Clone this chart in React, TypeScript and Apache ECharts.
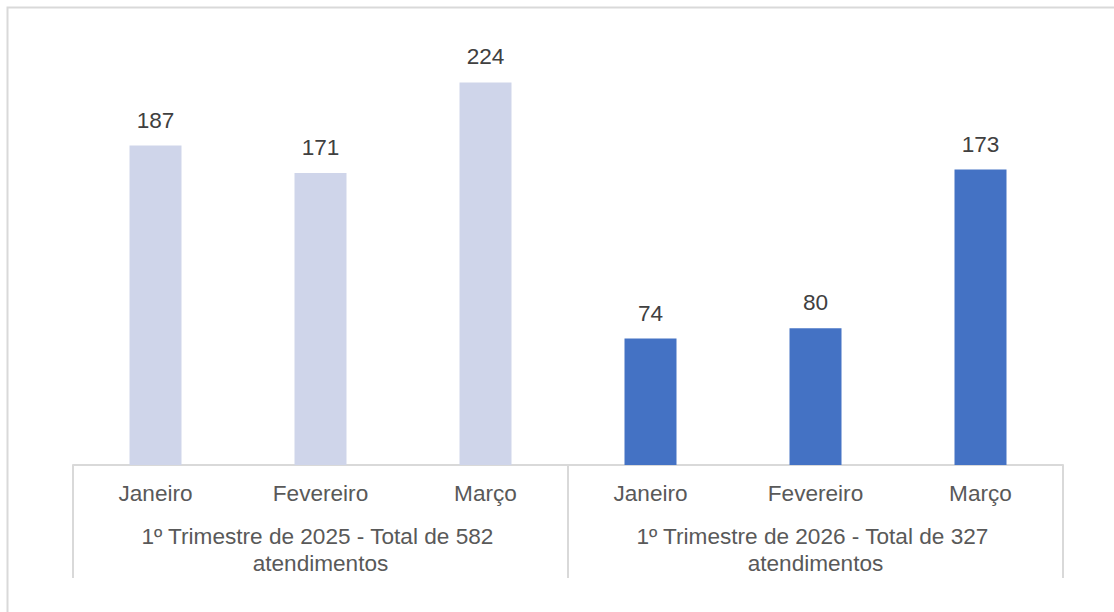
import React, { useEffect, useRef } from "react";
import * as echarts from "echarts";

const months = ["Janeiro", "Fevereiro", "Março", "Janeiro", "Fevereiro", "Março"];
const groups = [
  "1º Trimestre de 2025 - Total de 582 atendimentos",
  "1º Trimestre de 2026 - Total de 327 atendimentos",
];
const values = [187, 171, 224, 74, 80, 173];
const barColors = ["#CFD5EA", "#CFD5EA", "#CFD5EA", "#4472C4", "#4472C4", "#4472C4"];

const FONT = "'Liberation Sans', Arial, sans-serif";

export default function App() {
  const ref = useRef<HTMLDivElement>(null);
  useEffect(() => {
    if (!ref.current) return;
    const chart = echarts.init(ref.current, null, { renderer: "svg" });
    chart.setOption({
      animation: false,
      backgroundColor: "#ffffff",
      grid: { left: 73, right: 51, top: 38, bottom: 147 },
      graphic: [
        {
          type: "rect",
          shape: { x: 7.5, y: 7.5, width: 1120, height: 620 },
          style: { fill: "none", stroke: "#D9D9D9", lineWidth: 2 },
          silent: true,
        },
      ],
      xAxis: [
        {
          type: "category",
          data: months,
          position: "bottom",
          axisLine: { show: false },
          axisTick: { show: false },
          axisLabel: {
            margin: 17,
            fontSize: 22.6,
            color: "#595959",
            fontFamily: FONT,
            interval: 0,
          },
        },
        {
          type: "category",
          data: groups,
          position: "bottom",
          axisLine: { show: true, lineStyle: { color: "#D9D9D9", width: 2 } },
          axisTick: {
            show: true,
            length: 113,
            lineStyle: { color: "#D9D9D9", width: 2 },
          },
          axisLabel: {
            margin: 58,
            fontSize: 22.6,
            lineHeight: 27,
            color: "#595959",
            fontFamily: FONT,
            interval: 0,
            width: 450,
            overflow: "break",
            align: "center",
          },
        },
      ],
      yAxis: {
        type: "value",
        min: 0,
        max: 250,
        show: false,
        splitLine: { show: false },
      },
      series: [
        {
          type: "bar",
          xAxisIndex: 0,
          barWidth: 52,
          data: values.map((v, i) => ({ value: v, itemStyle: { color: barColors[i] } })),
          label: {
            show: true,
            position: "top",
            distance: 14,
            fontSize: 22.6,
            color: "#404040",
            fontFamily: FONT,
          },
        },
      ],
    });
    return () => chart.dispose();
  }, []);
  return (
    <div
      ref={ref}
      style={{ position: "fixed", left: 0, top: 0, width: 1114, height: 612 }}
    />
  );
}
